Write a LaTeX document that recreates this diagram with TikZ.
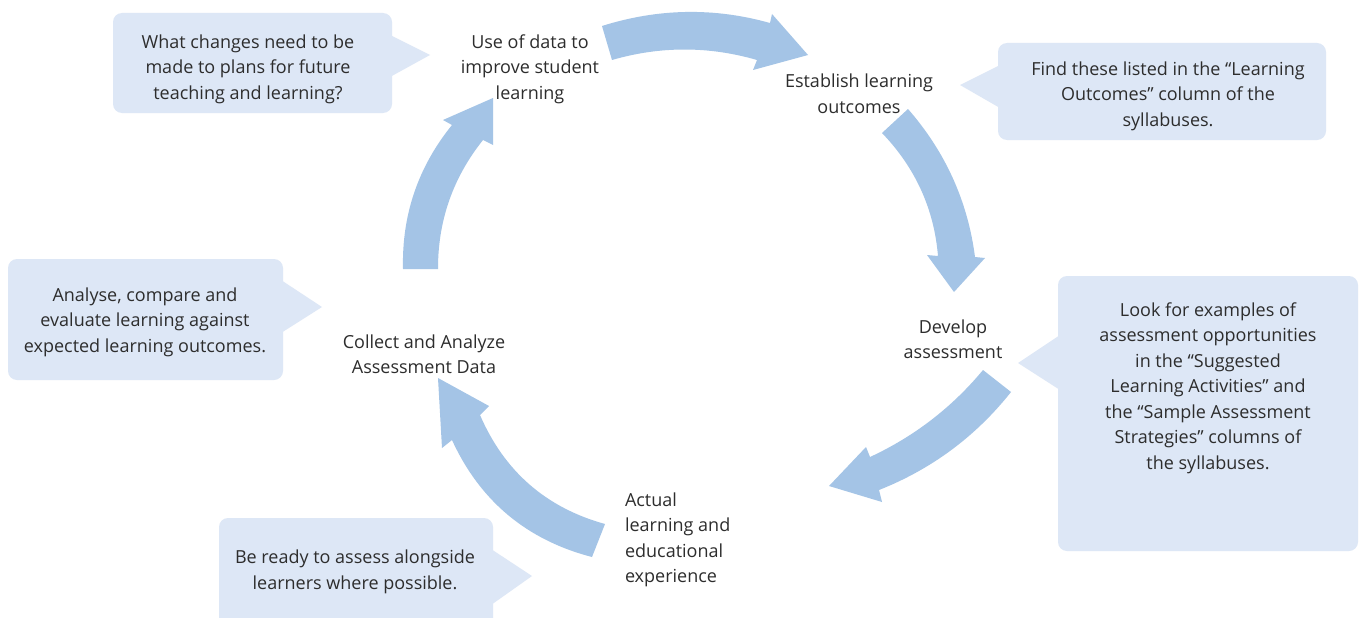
\documentclass[tikz,border=0pt]{standalone}
\usepackage{fontspec}
\setmainfont{Open Sans}
\definecolor{arrowblue}{RGB}{164,196,230}
\definecolor{callfill}{RGB}{221,231,246}
\definecolor{txtgray}{RGB}{45,45,45}
\begin{document}
\begin{tikzpicture}[x=1pt,y=-1pt,
  every node/.style={inner sep=0pt, outer sep=0pt},
  txt/.style={text=txtgray, font=\fontsize{18}{25.5}\selectfont, align=center},
  callbox/.style={fill=callfill, rounded corners=9pt, anchor=north west},
  cyclearrow/.style={fill=arrowblue}]
\useasboundingbox[fill=white] (0,0) rectangle (1362,618);

% ---- cycle arrows ----
% top
\fill[cyclearrow] (602,26) .. controls (658,8.3) and (714,7.3) .. (770,23) -- (772,14) -- (808,55) -- (753,70) -- (757,60)
   .. controls (708.7,46) and (660.3,46) .. (612,60) -- cycle;
% right
\fill[cyclearrow] (908,109) .. controls (945.3,151.7) and (967.7,201) .. (975,257) -- (985,258) -- (954,292) -- (927,255) -- (938,256)
   .. controls (934,208.7) and (915.3,167.7) .. (882,133) -- cycle;
% lower right
\fill[cyclearrow] (983,370) .. controls (951.9,407.5) and (914.2,436.5) .. (870,457) -- (866,447) -- (829,486) -- (882,502) -- (879,490)
   .. controls (931.7,469.1) and (975.7,436.5) .. (1011,392) -- cycle;
% bottom left
\fill[cyclearrow] (592,557) .. controls (526.7,540) and (480,501) .. (452,440) -- (442,448) -- (438,378) -- (489,406) -- (480,415)
   .. controls (504.3,471.3) and (546,507.7) .. (605,524) -- cycle;
% left
\fill[cyclearrow] (403,269) .. controls (401.7,215) and (418,167) .. (452,125) -- (443,120) -- (493,98) -- (493,145) -- (483,140)
   .. controls (452.9,177.7) and (437.9,220.7) .. (438,269) -- cycle;

% ---- step labels ----
\node[txt] (use) at (530,69) {Use of data to\\improve student\\learning};
\node[txt] (est) at (859,94) {Establish learning\\outcomes};
\node[txt] (dev) at (953,339) {Develop\\assessment};
\node[txt, align=left, anchor=west] (act) at (625,540) {Actual\\learning and\\educational\\experience};
\node[txt] (col) at (424,354) {Collect and Analyze\\Assessment Data};

% ---- callouts ----
\node[callbox, minimum width=279pt, minimum height=100pt] (b1) at (113,13) {};
\fill[callfill] (390,35) -- (430,55) -- (390,77) -- cycle;
\node[txt] (t1) at (248,69) {What changes need to be\\made to plans for future\\teaching and learning?};

\node[callbox, minimum width=328pt, minimum height=97pt] (b2) at (998,43) {};
\fill[callfill] (1000,65) -- (960,85) -- (1000,108) -- cycle;
\node[txt] (t2) at (1168,96) {Find these listed in the “Learning\\Outcomes” column of the\\syllabuses.};

\node[callbox, minimum width=300pt, minimum height=275pt] (b3) at (1058,276) {};
\fill[callfill] (1060,335) -- (1018,363) -- (1060,390) -- cycle;
\node[txt] (t3) at (1208,388) {Look for examples of\\assessment opportunities\\in the “Suggested\\Learning Activities” and\\the “Sample Assessment\\Strategies” columns of\\the syllabuses.};

\node[callbox, minimum width=275pt, minimum height=121pt] (b4) at (8,259) {};
\fill[callfill] (281,280) -- (322,307) -- (281,333) -- cycle;
\node[txt] (t4) at (145,322) {Analyse, compare and\\evaluate learning against\\expected learning outcomes.};

\node[callbox, minimum width=274pt, minimum height=120pt] (b5) at (219,518) {};
\fill[callfill] (491,549) -- (532,576) -- (491,605) -- cycle;
\node[txt] (t5) at (355,572) {Be ready to assess alongside\\learners where possible.};
\end{tikzpicture}
\end{document}
